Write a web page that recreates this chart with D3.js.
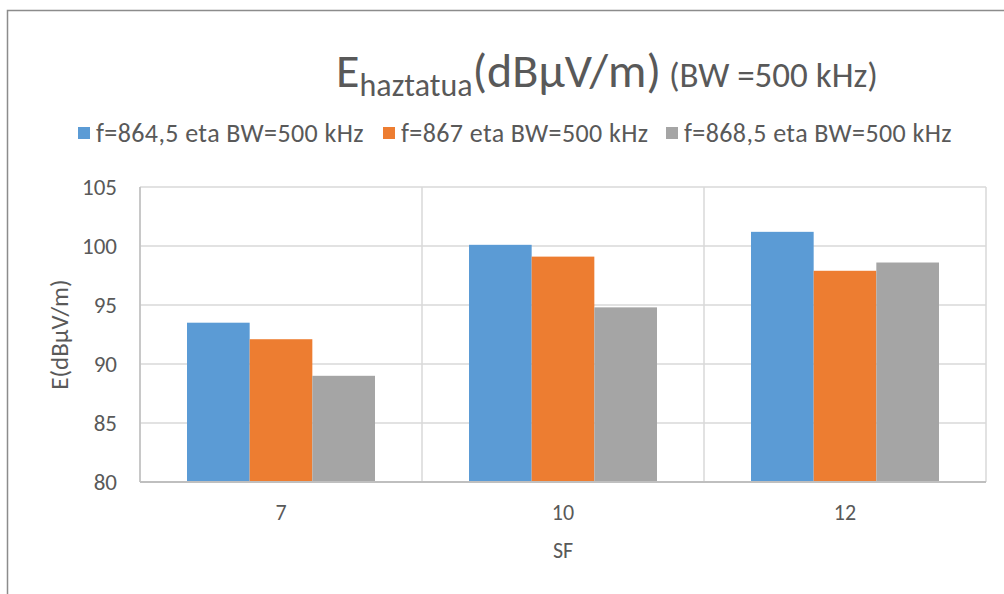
<!DOCTYPE html>
<html>
<head>
<meta charset="utf-8">
<script src="https://cdn.jsdelivr.net/npm/d3@7"></script>
<style>
  body { margin: 0; background: #fff; }
  text { font-family: Carlito, Calibri, "Liberation Sans Narrow", "Open Sans", sans-serif; fill: #595959; }
</style>
</head>
<body>
<svg id="chart" width="1004" height="594"></svg>
<script>
var categories = ["7", "10", "12"];
var seriesNames = ["f=864,5 eta BW=500 kHz", "f=867 eta BW=500 kHz", "f=868,5 eta BW=500 kHz"];
var seriesColors = ["#5b9bd5", "#ed7d31", "#a5a5a5"];
var s1 = [93.5, 100.1, 101.2];
var s2 = [92.1, 99.1, 97.9];
var s3 = [89.0, 94.8, 98.6];
var yTicks = [80, 85, 90, 95, 100, 105];

var series = [s1, s2, s3];
var svg = d3.select("#chart");

// chart border
svg.append("rect")
    .attr("x", 7.5).attr("y", 10.5)
    .attr("width", 1010).attr("height", 600)
    .attr("fill", "none").attr("stroke", "#8c8c8c").attr("stroke-width", 1.5);

var plotL = 140, plotR = 986, plotT = 187, plotB = 482;

var x = d3.scaleBand().domain(categories).range([plotL, plotR]).paddingInner(0).paddingOuter(0);
// excel gap width 150%
var groupW = x.bandwidth() * 3 / 4.5;
var xs = d3.scaleBand().domain(d3.range(3)).range([0, groupW]);
var y = d3.scaleLinear().domain([80, 105]).range([plotB, plotT]);

// horizontal gridlines
svg.append("g").selectAll("line").data(yTicks).enter().append("line")
    .attr("x1", plotL).attr("x2", plotR)
    .attr("y1", function(d) { return y(d); })
    .attr("y2", function(d) { return y(d); })
    .attr("stroke", "#d9d9d9").attr("stroke-width", 1.5);

// vertical gridlines at category boundaries
var bounds = categories.map(function(c) { return x(c); }).concat([plotR]);
svg.append("g").selectAll("line").data(bounds).enter().append("line")
    .attr("x1", function(d) { return d; }).attr("x2", function(d) { return d; })
    .attr("y1", plotT).attr("y2", plotB)
    .attr("stroke", "#d9d9d9").attr("stroke-width", 1.5);

// bars
for (var s = 0; s < series.length; s++) {
    svg.append("g").selectAll("rect").data(series[s]).enter().append("rect")
        .attr("x", function(d, i) { return x(categories[i]) + (x.bandwidth() - groupW) / 2 + xs(s); })
        .attr("y", function(d) { return y(d); })
        .attr("width", xs.bandwidth())
        .attr("height", function(d) { return y(80) - y(d); })
        .attr("fill", seriesColors[s]);
}

// axes lines
svg.append("line").attr("x1", plotL).attr("x2", plotL).attr("y1", plotT).attr("y2", plotB)
    .attr("stroke", "#bfbfbf").attr("stroke-width", 1.5);
svg.append("line").attr("x1", plotL).attr("x2", plotR).attr("y1", plotB).attr("y2", plotB)
    .attr("stroke", "#bfbfbf").attr("stroke-width", 2);

// y tick labels
svg.append("g").selectAll("text").data(yTicks).enter().append("text")
    .attr("x", 117).attr("y", function(d) { return y(d); })
    .attr("dy", "0.35em")
    .attr("text-anchor", "end")
    .style("font-size", "23px")
    .text(function(d) { return d; });

// x tick labels
svg.append("g").selectAll("text").data(categories).enter().append("text")
    .attr("x", function(d) { return x(d) + x.bandwidth() / 2; })
    .attr("y", 520)
    .attr("text-anchor", "middle")
    .style("font-size", "22px")
    .text(function(d) { return d; });

// axis titles
svg.append("text").attr("x", x("10") + x.bandwidth() / 2).attr("y", 558)
    .attr("text-anchor", "middle").style("font-size", "22px").text("SF");
svg.append("text")
    .attr("transform", "translate(59," + (plotT + plotB) / 2 + ") rotate(-90)")
    .attr("dy", "0.35em")
    .attr("text-anchor", "middle").style("font-size", "25px").text("E(dBµV/m)");

// title
var title = svg.append("text").attr("x", 607).attr("y", 87).attr("text-anchor", "middle");
title.append("tspan").style("font-size", "48px").text("E");
title.append("tspan").style("font-size", "32px").attr("dy", 9).text("haztatua");
title.append("tspan").style("font-size", "48px").attr("dy", -9).text("(dBµV/m)");
title.append("tspan").style("font-size", "35px").text(" (BW =500 kHz)");

// legend
var legendX = [78, 383, 666];
var lg = svg.append("g").selectAll("g").data(seriesNames).enter().append("g")
    .attr("transform", function(d, i) { return "translate(" + legendX[i] + ",133)"; });
lg.append("rect").attr("x", 0).attr("y", -6).attr("width", 12).attr("height", 12)
    .attr("fill", function(d, i) { return seriesColors[i]; });
lg.append("text").attr("x", 18).attr("dy", "0.35em").style("font-size", "26px")
    .style("letter-spacing", "0.4px")
    .text(function(d) { return d; });
</script>
</body>
</html>
